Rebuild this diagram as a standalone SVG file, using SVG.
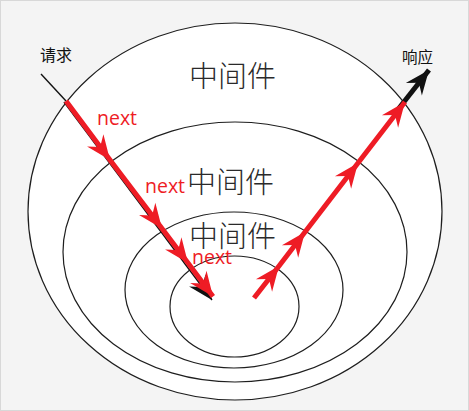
<svg xmlns="http://www.w3.org/2000/svg" width="469" height="411" viewBox="0 0 469 411">
<style>
.ring{fill:#fff;stroke:#1e1e1e;stroke-width:1.2}
.mw{font-family:"Noto Sans CJK SC","Noto Sans CJK JP",sans-serif;font-weight:300;font-size:29px;fill:#2a2a2a}
.lbl{font-family:"Noto Sans CJK SC","Noto Sans CJK JP",sans-serif;font-size:16px;fill:#111}
.nx{font-family:"Open Sans","Noto Sans",sans-serif;font-size:19.5px;fill:#ee1c25}
.red{fill:none;stroke:#ee1c25;stroke-width:5}
.blk{fill:none;stroke:#111;stroke-width:1.4}
</style>
<defs>
<marker id="ar" markerUnits="userSpaceOnUse" markerWidth="30" markerHeight="30" viewBox="-20 -10 22 20" refX="0" refY="0" orient="auto" overflow="visible">
<path d="M0,0 L-18,-7.5 L-12,0 L-18,7.5 Z" fill="#ee1c25"/>
</marker>
<marker id="ab" markerUnits="userSpaceOnUse" markerWidth="30" markerHeight="30" viewBox="-20 -10 22 20" refX="0" refY="0" orient="auto" overflow="visible">
<path d="M0,0 L-18,-7.5 L-12,0 L-18,7.5 Z" fill="#111"/>
</marker>
</defs>
<rect x="0.5" y="0.5" width="468" height="410" fill="#f4f4f4" stroke="#d8d8d8"/>
<g id="layer1"><ellipse class="ring" cx="235" cy="211.5" rx="207" ry="188.5"/><text class="mw" x="189" y="87">中间件</text></g>
<g id="layer2"><ellipse class="ring" cx="235" cy="252" rx="172" ry="130"/><text class="mw" x="187" y="193">中间件</text></g>
<g id="layer3"><ellipse class="ring" cx="234" cy="290" rx="109" ry="78"/><text class="mw" x="189" y="247">中间件</text></g>
<g id="core"><ellipse class="ring" cx="234.5" cy="306.5" rx="64.5" ry="50.5"/></g>
<g id="labels">
<text class="lbl" x="40" y="61">请求</text>
<text class="lbl" x="402" y="63" style="font-size:15.5px">响应</text>
<text class="nx" x="97" y="125">next</text>
<text class="nx" x="145" y="193">next</text>
<text class="nx" x="192" y="264">next</text>
</g>
<g id="connectors">
<path class="blk" d="M41,74 L66,101"/>
<path class="blk" d="M64,102 L212,300" marker-end="url(#ab)"/>
<path class="red" d="M66,101 L110,160 L162,228.5 L188,263 L213,296.5" marker-mid="url(#ar)" marker-end="url(#ar)"/>
<path fill="none" stroke="#111" stroke-width="5" d="M396,112 L429,70" marker-end="url(#ab)"/>
<path class="red" d="M254,298 L279,266 L305,232 L358,163 L405,102" marker-mid="url(#ar)" marker-end="url(#ar)"/>
</g>
</svg>
